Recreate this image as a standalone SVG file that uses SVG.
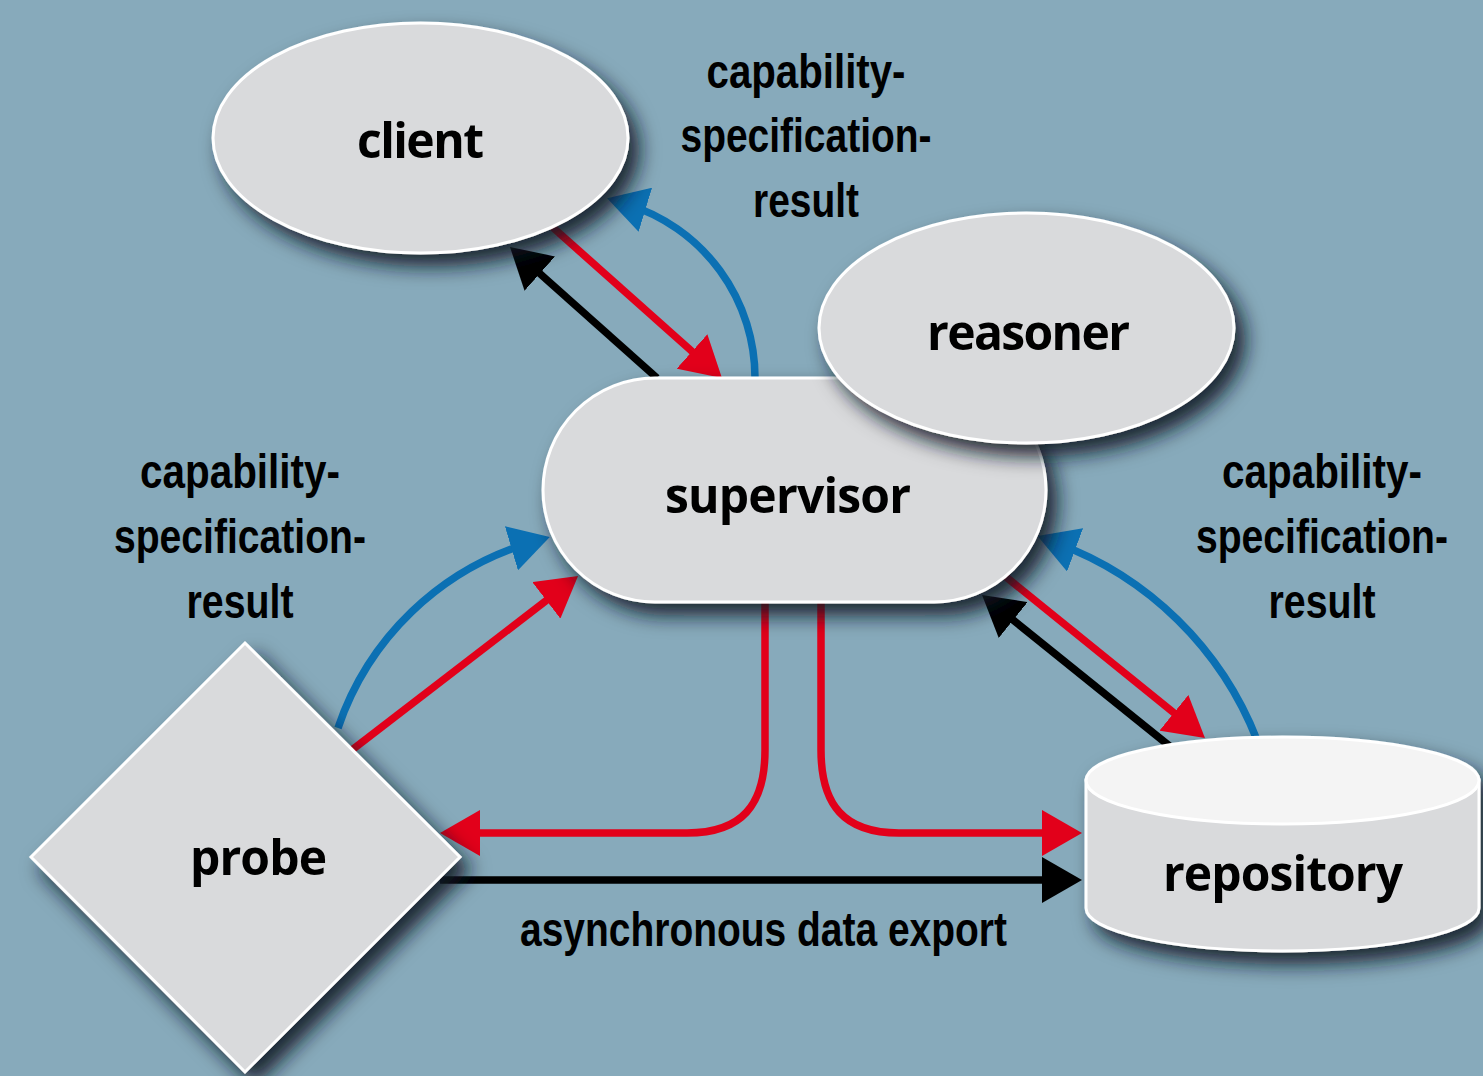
<svg xmlns="http://www.w3.org/2000/svg" width="1483" height="1076" viewBox="0 0 1483 1076">
<style>
.node{fill:#d9dadc;stroke:#ffffff;stroke-width:3}
.top{fill:#f4f4f4;stroke:#ffffff;stroke-width:3}
.nt{font-family:"Open Sans","Noto Sans","DejaVu Sans",sans-serif;font-weight:700;font-size:48px;fill:#000;text-anchor:middle}
.lb{font-family:"Liberation Sans",Arial,sans-serif;font-weight:bold;font-size:49px;fill:#000;text-anchor:middle}
.c{fill:none;stroke-width:7.5;stroke-linecap:butt}
.red{stroke:#e2001a}
.blue{stroke:#0b70b3}
.blk{stroke:#000}
</style>
<defs>
<filter id="sh" x="-30%" y="-30%" width="160%" height="160%">
<feDropShadow dx="10" dy="12" stdDeviation="10" flood-color="#0c1820" flood-opacity="0.9"/>
</filter>
<marker id="ar" viewBox="0 0 40 46" markerWidth="40" markerHeight="46" markerUnits="userSpaceOnUse" refX="20" refY="23" orient="auto"><path d="M0,0 L40,23 L0,46 z" fill="#e2001a"/></marker>
<marker id="ab" viewBox="0 0 40 46" markerWidth="40" markerHeight="46" markerUnits="userSpaceOnUse" refX="20" refY="23" orient="auto"><path d="M0,0 L40,23 L0,46 z" fill="#0b70b3"/></marker>
<marker id="ak" viewBox="0 0 40 46" markerWidth="40" markerHeight="46" markerUnits="userSpaceOnUse" refX="20" refY="23" orient="auto"><path d="M0,0 L40,23 L0,46 z" fill="#000"/></marker>
</defs>
<rect width="1483" height="1076" fill="#87aabb"/>
<g id="connectors">
<path class="c blk" d="M657,378 L524.9,260.3" marker-end="url(#ak)"/>
<path class="c red" d="M540,216 L707,364.7" marker-end="url(#ar)"/>
<path class="c blue" d="M755,380 A181.9,181.9 0 0 0 626.2,204" marker-end="url(#ab)"/>
<path class="c blue" d="M338,728 A290,290 0 0 1 530.6,542.6" marker-end="url(#ab)"/>
<path class="c red" d="M348,753 L562.2,588.2" marker-end="url(#ar)"/>
<path class="c blue" d="M1257,740 A343,343 0 0 0 1056.3,543" marker-end="url(#ab)"/>
<path class="c red" d="M995,568 L1189.4,725.4" marker-end="url(#ar)"/>
<path class="c blk" d="M1172,748 L997.6,607.5" marker-end="url(#ak)"/>
<path class="c red" d="M765,598 L765,750 C765,805 742,833 687,833 L460,833" marker-end="url(#ar)"/>
<path class="c red" d="M821,598 L821,750 C821,805 844,833 899,833 L1062,833" marker-end="url(#ar)"/>
<path class="c blk" d="M440,880 L1062,880" marker-end="url(#ak)"/>
</g>
<g id="supervisor" filter="url(#sh)">
<rect class="node" x="543" y="378" width="503" height="224" rx="112" ry="112"/>
<text class="nt" x="788" y="513" textLength="246">supervisor</text>
</g>
<g id="reasoner" filter="url(#sh)">
<ellipse class="node" cx="1026.5" cy="328" rx="207.5" ry="115"/>
<text class="nt" x="1028.5" y="350" textLength="203">reasoner</text>
</g>
<g id="client" filter="url(#sh)">
<ellipse class="node" cx="420.5" cy="138" rx="207.5" ry="115"/>
<text class="nt" x="420.5" y="158" textLength="127">client</text>
</g>
<g id="probe" filter="url(#sh)">
<polygon class="node" points="245,643 460,857 245,1072 31,857"/>
<text class="nt" x="258.5" y="875" textLength="137">probe</text>
</g>
<g id="repository" filter="url(#sh)">
<path class="node" d="M1086,780 L1086,908 A196.5,43 0 0 0 1479,908 L1479,780 Z"/>
<ellipse class="top" cx="1282.5" cy="780.5" rx="196.5" ry="43.5"/>
<text class="nt" x="1283" y="891" textLength="240">repository</text>
</g>
<g id="labels">
<text class="lb" x="806" y="88" textLength="199" lengthAdjust="spacingAndGlyphs">capability-</text>
<text class="lb" x="806" y="152" textLength="251" lengthAdjust="spacingAndGlyphs">specification-</text>
<text class="lb" x="806" y="217" textLength="106" lengthAdjust="spacingAndGlyphs">result</text>
<text class="lb" x="240" y="488" textLength="200" lengthAdjust="spacingAndGlyphs">capability-</text>
<text class="lb" x="240" y="553" textLength="252" lengthAdjust="spacingAndGlyphs">specification-</text>
<text class="lb" x="240" y="618" textLength="107" lengthAdjust="spacingAndGlyphs">result</text>
<text class="lb" x="1322" y="488" textLength="200" lengthAdjust="spacingAndGlyphs">capability-</text>
<text class="lb" x="1322" y="553" textLength="252" lengthAdjust="spacingAndGlyphs">specification-</text>
<text class="lb" x="1322" y="618" textLength="107" lengthAdjust="spacingAndGlyphs">result</text>
<text class="lb" x="763.5" y="946" textLength="487" lengthAdjust="spacingAndGlyphs">asynchronous data export</text>
</g>
</svg>
